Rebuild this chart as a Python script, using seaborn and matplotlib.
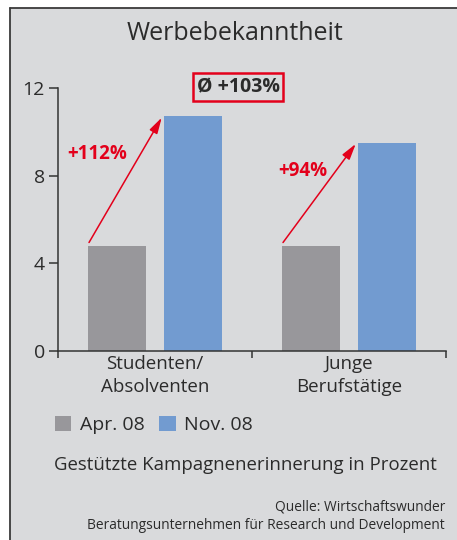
import matplotlib
matplotlib.use("Agg")
import matplotlib.pyplot as plt
import seaborn as sns
import pandas as pd
from matplotlib.patches import Rectangle, Patch
from matplotlib.lines import Line2D

# ---- data ----
groups = ["Studenten/\nAbsolventen", "Junge\nBerufstätige"]
periods = ["Apr. 08", "Nov. 08"]
apr_values = [4.8, 4.8]
nov_values = [10.7, 9.5]
growth_labels = ["+112%", "+94%"]
avg_label = "Ø +103%"
y_ticks = [0, 4, 8, 12]
title = "Werbebekanntheit"
subtitle = "Gestützte Kampagnenerinnerung in Prozent"
source = "Quelle: Wirtschaftswunder\nBeratungsunternehmen für Research und Development"

BG = "#d9dadc"
GREY = "#98979b"
BLUE = "#729bd0"
RED = "#e3001b"
TXT = "#2b2b2b"

sns.set_theme(style="white")
plt.rcParams["font.family"] = ["Open Sans", "DejaVu Sans"]

df = pd.DataFrame({
    "group": groups * 2,
    "period": [periods[0]] * 2 + [periods[1]] * 2,
    "value": apr_values + nov_values,
})

fig = plt.figure(figsize=(4.57, 5.40), dpi=100)
fig.patch.set_facecolor("white")
# panel background (no edge), then top and left border lines
px0 = 9.5 / 457
py1 = 1 - 7.5 / 540
fig.patches.append(Rectangle((px0, 0), 1 - px0, py1, transform=fig.transFigure,
                             facecolor=BG, edgecolor="none", zorder=-10))
fig.lines.append(Line2D([px0, px0], [0, py1], transform=fig.transFigure,
                        color="#3a3a3a", lw=1.3))
fig.lines.append(Line2D([px0, 1], [py1, py1], transform=fig.transFigure,
                        color="#3a3a3a", lw=1.3))

ax = fig.add_axes([58 / 457, 1 - 351 / 540, (446 - 58) / 457, (351 - 88) / 540])
ax.set_facecolor("none")

sns.barplot(data=df, x="group", y="value", hue="period", palette=[GREY, BLUE],
            width=0.78, gap=0.23, saturation=1, legend=False, ax=ax, errorbar=None,
            linewidth=0, edgecolor="none")

ax.set_xlim(-0.5, 1.5)
ax.set_ylim(0, 12)
ax.set_yticks(y_ticks)
ax.set_xlabel("")
ax.set_ylabel("")
for s in ["top", "right"]:
    ax.spines[s].set_visible(False)
for s in ["left", "bottom"]:
    ax.spines[s].set_color("#333333")
    ax.spines[s].set_linewidth(1.1)
ax.tick_params(axis="y", length=6.5, width=1.1, color="#333333", labelsize=14,
               labelcolor=TXT, pad=3, left=True)
ax.tick_params(axis="x", length=0, labelsize=13.5, labelcolor=TXT, pad=3)
ax.set_xticks([-0.5, 0.5, 1.5], minor=True)
ax.tick_params(axis="x", which="minor", length=5, width=1.1, color="#333333", bottom=True)
for lbl in ax.get_xticklabels():
    lbl.set_linespacing(1.35)

# arrows from grey bars to blue bars
bars = sorted(ax.patches, key=lambda p: p.get_x())
pairs = [(bars[0], bars[1]), (bars[2], bars[3])]
label_pos = [(-0.296, 8.99), (0.763, 8.21)]
for (g, b), lab, (lx, ly) in zip(pairs, growth_labels, label_pos):
    x0 = g.get_x() + 0.005
    y0 = g.get_height() + 0.15
    x1 = b.get_x() - 0.01
    y1 = b.get_height() - 0.05
    ax.annotate("", xy=(x1, y1), xytext=(x0, y0),
                arrowprops=dict(arrowstyle="-|>,head_length=0.8,head_width=0.22",
                                color=RED, lw=1.1, shrinkA=0, shrinkB=0))
    ax.text(lx, ly, lab, color=RED, fontsize=13.5, fontweight="bold",
            ha="center", va="center")

ax.text(0.428, 12.05, avg_label, color=TXT, fontsize=14, fontweight="bold",
        ha="center", va="center", clip_on=False,
        bbox=dict(boxstyle="square,pad=0.2", facecolor="none", edgecolor=RED, linewidth=1.8))

fig.text(235 / 457, 1 - 33 / 540, title, ha="center", va="center", fontsize=18, color=TXT)

handles = [Patch(facecolor=GREY, edgecolor="none"), Patch(facecolor=BLUE, edgecolor="none")]
fig.legend(handles, periods, loc="center left", bbox_to_anchor=(37 / 457, 1 - 425 / 540),
           ncol=2, frameon=False, fontsize=14, handlelength=0.85, handleheight=0.85,
           handletextpad=0.45, columnspacing=0.75, labelcolor=TXT)

fig.text(245 / 457, 1 - 465 / 540, subtitle, ha="center", va="center", fontsize=13.4, color=TXT)
fig.text(445 / 457, 1 - 516 / 540, source, ha="right", va="center", fontsize=9.9,
         color=TXT, linespacing=1.35)

fig.savefig("out.png", dpi=100, facecolor=fig.get_facecolor())
